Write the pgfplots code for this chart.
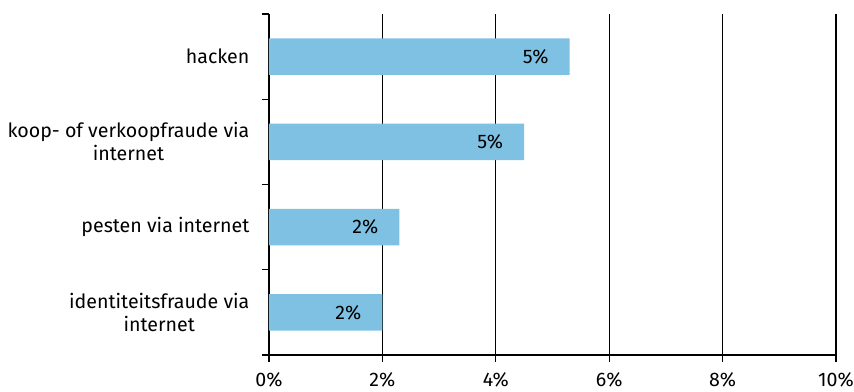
\documentclass[border=0pt]{standalone}
\usepackage{fontspec}
\setmainfont{Fira Sans}
\usepackage{pgfplots}
\pgfplotsset{compat=1.18}
\definecolor{barblue}{RGB}{127,193,227}
\begin{document}
\begin{tikzpicture}
\begin{axis}[
  at={(0,0)}, anchor=south west,
  scale only axis,
  width=283.5pt, height=170.5pt,
  xbar,
  xmin=0, xmax=10,
  ymin=-0.5, ymax=3.5,
  axis x line*=bottom,
  axis y line*=left,
  xtick={0,2,4,6,8,10},
  xticklabels={0\%,2\%,4\%,6\%,8\%,10\%},
  xmajorgrids,
  major grid style={black, line width=0.6pt},
  x axis line style={line width=0.6pt, -},
  y axis line style={line width=0.6pt, -},
  xtick style={black, line width=0.6pt},
  x tick label style={font=\fontsize{9.8}{10}\selectfont, yshift=-1pt},
  major x tick style={/pgfplots/major tick length=3.5pt},
  xtick align=outside,
  ytick={0,1,2,3},
  yticklabels={{identiteitsfraude via\\internet},{pesten via internet},{koop- of verkoopfraude via\\internet},{hacken}},
  y tick label style={font=\fontsize{9.8}{11.5}\selectfont, align=center, xshift=-2pt},
  major y tick style={draw=none},
  minor ytick={-0.5,0.5,1.5,2.5,3.5},
  minor y tick style={black, line width=0.6pt},
  ytick align=outside,
  minor tick length=3.5pt,
  bar width=0.43,
  point meta=explicit symbolic,
  nodes near coords,
  nodes near coords style={anchor=east, xshift=-7pt, font=\fontsize{9.8}{10}\selectfont, text=black},
  /pgf/number format/assume math mode=true,
]
\addplot[fill=barblue, draw=none] table[meta=lab] {
x y lab
2.0 0 2\%
2.3 1 2\%
4.5 2 5\%
5.3 3 5\%
};
\end{axis}
\pgfresetboundingbox
\path (-134.5pt,-18pt) rectangle (292.5pt,177.5pt);
\end{tikzpicture}
\end{document}
